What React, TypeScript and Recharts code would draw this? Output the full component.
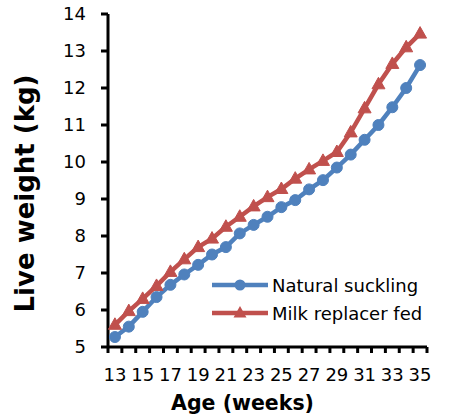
import { Legend, Line, LineChart, XAxis, YAxis } from 'recharts'

const weeks = [13, 14, 15, 16, 17, 18, 19, 20, 21, 22, 23, 24, 25, 26, 27, 28, 29, 30, 31, 32, 33, 34, 35]
const naturalSuckling = [5.27, 5.55, 5.95, 6.35, 6.68, 6.96, 7.22, 7.5, 7.7, 8.07, 8.3, 8.52, 8.78, 8.97, 9.26, 9.51, 9.85, 10.2, 10.6, 11.0, 11.48, 12.0, 12.62]
const milkReplacerFed = [5.6, 5.97, 6.3, 6.65, 7.03, 7.37, 7.7, 7.93, 8.25, 8.52, 8.8, 9.05, 9.27, 9.55, 9.8, 10.03, 10.27, 10.8, 11.45, 12.1, 12.65, 13.1, 13.47]
// tick marks sit between categories, labels on every other week
const xTickMarks = [12.5, 13.5, 14.5, 15.5, 16.5, 17.5, 18.5, 19.5, 20.5, 21.5, 22.5, 23.5, 24.5, 25.5, 26.5, 27.5, 28.5, 29.5, 30.5, 31.5, 32.5, 33.5, 34.5, 35.5]
const yTicks = [5, 6, 7, 8, 9, 10, 11, 12, 13, 14]

const BLUE = '#4F81BD'
const RED = '#C0504D'
const FONT = '"DejaVu Sans", Verdana, sans-serif'

const data = weeks.map((week, i) => ({
  week,
  natural: naturalSuckling[i],
  replacer: milkReplacerFed[i]
}))

const HALF_BAND = (427 - 108) / 23 / 2

const XTick = (props: any) => {
  const { x, y, payload } = props
  const week = payload.value + 0.5
  if (week % 2 !== 1) return <g />
  return (
    <text x={x + HALF_BAND} y={y} dy="0.71em" textAnchor="middle" fontSize={18} fill="#000" fontFamily={FONT}>
      {week}
    </text>
  )
}

const Triangle = (props: any) => {
  const { cx, cy, key } = props
  if (cx == null || cy == null) return <g key={key} />
  return (
    <path
      key={key}
      d={`M${cx},${cy - 7} L${cx + 6.5},${cy + 4.5} L${cx - 6.5},${cy + 4.5} Z`}
      fill={RED}
      stroke={RED}
    />
  )
}

const LegendContent = () => (
  <div style={{ fontFamily: FONT, fontSize: 18, color: '#000' }}>
    {[
      { name: 'Natural suckling', color: BLUE, marker: 'circle' },
      { name: 'Milk replacer fed', color: RED, marker: 'triangle' }
    ].map((item) => (
      <div key={item.name} style={{ display: 'flex', alignItems: 'center', height: 28 }}>
        <svg width={60} height={20}>
          <line x1={0} y1={10} x2={56} y2={10} stroke={item.color} strokeWidth={4.5} />
          {item.marker === 'circle' ? (
            <circle cx={28} cy={10} r={5.5} fill={item.color} />
          ) : (
            <path d="M28,3 L34.5,14.5 L21.5,14.5 Z" fill={item.color} />
          )}
        </svg>
        <span style={{ whiteSpace: 'nowrap' }}>{item.name}</span>
      </div>
    ))}
  </div>
)

const YTitle = (props: any) => {
  const { viewBox } = props
  const x = viewBox.x + 25
  const y = viewBox.y + viewBox.height / 2 + 13
  return (
    <text
      x={x}
      y={y}
      transform={`rotate(-90 ${x} ${y})`}
      textAnchor="middle"
      dominantBaseline="central"
      fontSize={26}
      fontWeight="bold"
      fontFamily={FONT}
      fill="#000"
    >
      Live weight (kg)
    </text>
  )
}

const XTitle = (props: any) => {
  const { viewBox } = props
  return (
    <text
      x={viewBox.x + viewBox.width / 2 - 25}
      y={410}
      textAnchor="middle"
      fontSize={20.5}
      fontWeight="bold"
      fontFamily={FONT}
      fill="#000"
    >
      Age (weeks)
    </text>
  )
}

export default function App() {
  return (
    <div style={{ position: 'absolute', left: 0, top: 0 }}>
      <LineChart
        width={450}
        height={417}
        data={data}
        margin={{ top: 14, right: 23, left: 0, bottom: 0 }}
        style={{ fontFamily: FONT }}
      >
        <XAxis
          dataKey="week"
          type="number"
          domain={[12.5, 35.5]}
          ticks={xTickMarks}
          interval={0}
          height={70}
          tickSize={6}
          tickMargin={15}
          tick={<XTick />}
          axisLine={{ stroke: '#000', strokeWidth: 3 }}
          tickLine={{ stroke: '#000', strokeWidth: 3 }}
          label={<XTitle />}
        />
        <YAxis
          type="number"
          domain={[5, 14]}
          ticks={yTicks}
          interval={0}
          width={108}
          tickSize={7}
          tickMargin={15}
          tick={{ fill: '#000', fontSize: 18, fontFamily: FONT }}
          axisLine={{ stroke: '#000', strokeWidth: 3 }}
          tickLine={{ stroke: '#000', strokeWidth: 3 }}
          label={<YTitle />}
        />
        <Legend
          layout="vertical"
          align="center"
          verticalAlign="middle"
          content={<LegendContent />}
          wrapperStyle={{ left: 212, top: 271, width: 240, height: 60 }}
        />
        <Line
          type="linear"
          dataKey="natural"
          name="Natural suckling"
          stroke={BLUE}
          strokeWidth={4.5}
          dot={{ r: 5.5, fill: BLUE, stroke: BLUE, strokeWidth: 1 }}
          isAnimationActive={false}
        />
        <Line
          type="linear"
          dataKey="replacer"
          name="Milk replacer fed"
          stroke={RED}
          strokeWidth={4.5}
          dot={Triangle}
          isAnimationActive={false}
        />
      </LineChart>
    </div>
  )
}
